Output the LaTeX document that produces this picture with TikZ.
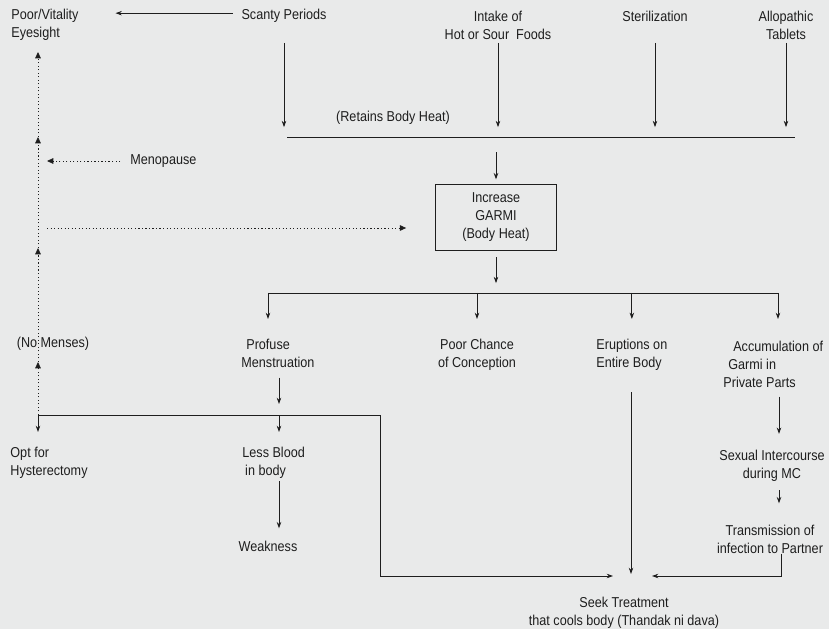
\documentclass[tikz,border=0pt]{standalone}
\usepackage{fontspec}
\setmainfont{Liberation Sans}[FakeStretch=0.88]
\usetikzlibrary{arrows.meta,calc}
\definecolor{paper}{RGB}{233,234,234}
\definecolor{ink}{RGB}{30,30,30}

\begin{document}
\begin{tikzpicture}[>={Stealth[length=4.5pt,width=3.2pt]}, x=0.025cm, y=-0.025cm,
  line width=0.6pt, color=ink, inner sep=0pt,
  font=\fontsize{10.2pt}{12.8pt}\selectfont,
  dots/.style={dash pattern=on 0.8pt off 1.7pt, -{Triangle[length=4.5pt,width=4pt]}}]

% paper
\fill[paper] (0,0) rectangle (829,629);
\useasboundingbox (0,0) rectangle (829,629);

% top row of causes
\node[align=left, anchor=west] (vit) at (11,25) {Poor/Vitality\\Eyesight};
\node (scanty) at (284,16) {Scanty Periods};
\node[align=center] (intake) at (498,25) {Intake of\\Hot or Sour\ \ Foods};
\node (steril) at (655,16) {Sterilization};
\node[align=center] (allo) at (786,25) {Allopathic\\Tablets};
\node (retain) at (393,118) {(Retains Body Heat)};

% the box in the middle
\node[draw, align=center, minimum width=3.03cm, minimum height=1.65cm] (garmi) at (496,217)
  {Increase\\GARMI\\(Body Heat)};

% left column
\node[anchor=west] (meno) at (130,161) {Menopause};
\node (nomens) at (53,344) {(No Menses)};
\node[align=left, anchor=west] (hyst) at (10,463) {Opt for\\Hysterectomy};

% effects
\node[align=left, anchor=west] (profuse) at (241,353) {\hspace*{3.5pt}Profuse\\Menstruation};
\node[align=center] (conc) at (477,355) {Poor Chance\\of Conception};
\node[align=left, anchor=west] (erupt) at (596,355) {Eruptions on\\Entire Body};
\node[align=left, anchor=west] (accum) at (723,364)
  {\hspace*{7pt}Accumulation of\\\hspace*{3.5pt}Garmi in\\Private Parts};
\node[align=left, anchor=west] (blood) at (242,463) {Less Blood\\\hspace*{2pt}in body};
\node (weak) at (268,546) {Weakness};
\node[align=center] (sexual) at (772,466) {Sexual Intercourse\\during MC};
\node[align=center] (trans) at (770,539) {Transmission of\\infection to Partner};
\node[align=center] (seek) at (624,613) {Seek Treatment\\that cools body (Thandak ni dava)};

% junction points
\coordinate (top) at (0,43);
\coordinate (barL) at (287,137);
\coordinate (barR) at (795,137);
\coordinate (splitL) at (268,293);
\coordinate (splitR) at (778,293);
\coordinate (join) at (38,415);
\coordinate (joinR) at (380,415);
\coordinate (colB) at (279,415);
\coordinate (colR) at (779,0);
\coordinate (meet) at (631,576);

% scanty periods -> eyesight
\draw[->, shorten <=6pt, shorten >=26pt] ([yshift=2pt]scanty.west) -- ([yshift=2pt]scanty.west -| vit.east);

% causes onto the bar
\foreach \n in {scanty, intake, steril, allo}
  \draw[->, shorten >=7pt] (\n.south |- top) -- (\n.south |- barL);
\draw (barL) -- (barR);
\draw[->, shorten <=11pt, shorten >=3pt] (garmi.north |- barL) -- (garmi.north);

% garmi -> effects
\draw[->, shorten <=5pt, shorten >=7pt] (garmi.south) -- (garmi.south |- splitL);
\draw (splitL) -- (splitR);
\foreach \c in {splitL, splitR, {conc.north |- splitL}, {erupt.center |- splitL}}
  \draw[->] (\c) ++(0,0) -- ++(0,26);

% menstruation chain
\draw[->] (colB |- profuse.south) ++(0,10) -- ($(colB)+(0,-11)$);
\draw[->] (join) -- (joinR) -- (joinR |- meet) -- ($(meet)+(-18,0)$);
\draw[->] (join) -- ++(0,17);
\draw[->] (colB) -- ++(0,17);
\draw[->] (colB |- blood.south) ++(0,2) -- ($(colB |- weak.north)+(0,-12)$);

% dotted column on the left
\foreach \a/\b in {0/53, 53/167, 167/278, 278/363}
  \draw[dots] ($(join)-(0,\a)$) -- ($(join)-(0,\b)$);
\draw[dots, shorten <=7pt, shorten >=6.4pt] (meno.west) -- (meno.west -| join);
\draw[dots, shorten <=6.4pt, shorten >=20.5pt] ($(join |- garmi.west)+(0,11)$) -- ($(garmi.west)+(0,11)$);

% right side chain
\draw[->] (erupt.south -| meet) ++(0,21) -- ($(meet)+(0,-2)$);
\draw[->] (colR |- accum.south) ++(0,9) -- ($(colR |- sexual.north)+(0,-16)$);
\draw[->] (colR |- sexual.south) ++(0,8) -- ($(colR |- trans.north)+(0,-21)$);
\draw[->] ($(colR |- trans.south)+(2,0)$) -- ($(colR |- meet)+(2,0)$) -- ($(meet)+(21,0)$);

\end{tikzpicture}
\end{document}
